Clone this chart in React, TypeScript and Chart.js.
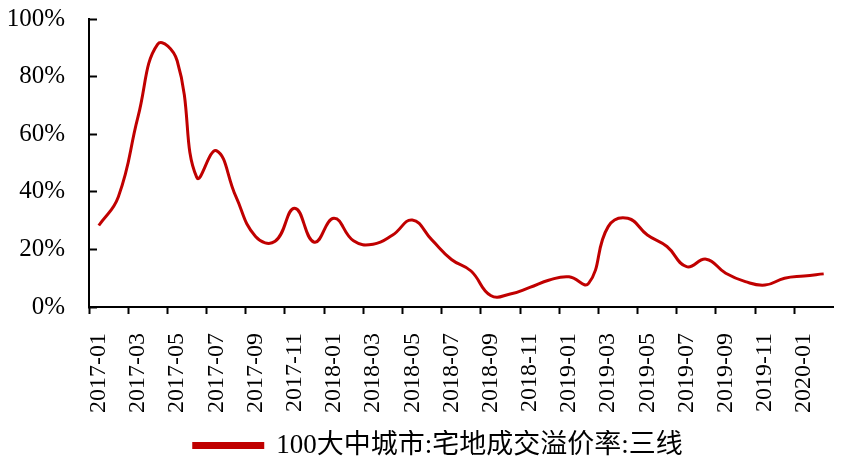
import React, { useEffect, useRef } from "react";
import { Chart, registerables } from "chart.js";

Chart.register(...registerables);

const months: string[] = [
  "2017-01","2017-02","2017-03","2017-04","2017-05","2017-06","2017-07","2017-08","2017-09","2017-10","2017-11","2017-12",
  "2018-01","2018-02","2018-03","2018-04","2018-05","2018-06","2018-07","2018-08","2018-09","2018-10","2018-11","2018-12",
  "2019-01","2019-02","2019-03","2019-04","2019-05","2019-06","2019-07","2019-08","2019-09","2019-10","2019-11","2019-12",
  "2020-01","2020-02",
];

const premiumRate: number[] = [
  28.3, 38.3, 66, 91.2, 85.5, 45, 54.3, 38.3, 24.5, 22.8, 34.3, 22.5,
  30.8, 23, 21.8, 25, 30.2, 23.3, 16.5, 12.5, 4.0, 4.5, 6.8, 9.4,
  10.5, 8.2, 27.9, 30.8, 25, 21, 14, 16.6, 11.7, 8.8, 7.6, 10,
  10.8, 11.5,
];

const seriesName = "100大中城市:宅地成交溢价率:三线";
const yTicks: number[] = [0, 20, 40, 60, 80, 100];

const legendShift = {
  id: "legendShift",
  afterLayout(chart: any) {
    if (chart.legend) {
      chart.legend.left += 43;
      chart.legend.top += 5;
      chart.legend.bottom += 5;
    }
  },
};

export default function App() {
  const ref = useRef<HTMLCanvasElement | null>(null);

  useEffect(() => {
    document.body.style.margin = "0";
    const canvas = ref.current;
    if (!canvas) return;
    const serif = "'Liberation Serif', 'Times New Roman', 'Noto Sans CJK SC', serif";
    const chart = new Chart(canvas, {
      type: "line",
      data: {
        labels: months,
        datasets: [
          {
            label: seriesName,
            data: premiumRate,
            borderColor: "#C00000",
            backgroundColor: "#C00000",
            borderWidth: 3,
            pointRadius: 0,
            tension: 0.45,
            fill: false,
          },
        ],
      },
      plugins: [legendShift],
      options: {
        animation: false,
        responsive: false,
        maintainAspectRatio: false,
        layout: { padding: { left: 0, right: 7.5, top: 19, bottom: 0 } },
        plugins: {
          tooltip: { enabled: false },
          legend: {
            position: "bottom",
            labels: {
              color: "#000",
              font: { family: serif, size: 27 },
              boxWidth: 69,
              boxHeight: 4,
              padding: 2,
            },
          },
        },
        scales: {
          x: {
            offset: true,
            grid: {
              offset: true,
              drawOnChartArea: false,
              drawTicks: true,
              tickLength: 7,
              tickWidth: 2,
              tickColor: (ctx: any) => (ctx.index % 2 === 0 ? "#000" : "rgba(0,0,0,0)"),
            },
            border: { color: "#000", width: 2 },
            ticks: {
              autoSkip: false,
              minRotation: 90,
              maxRotation: 90,
              padding: 19,
              color: "#000",
              font: { family: serif, size: 24 },
              callback: (_v: any, i: number) => (i % 2 === 0 ? months[i] : ""),
            },
            afterFit: (scale: any) => {
              scale.height = 118;
              scale.paddingLeft = 0;
              scale.paddingRight = 0;
              scale.paddingTop = 0;
              scale.paddingBottom = 0;
            },
          },
          y: {
            min: 0,
            max: 100,
            afterBuildTicks: (scale: any) => {
              scale.ticks = yTicks.map((v) => ({ value: v }));
            },
            grid: {
              drawOnChartArea: false,
              drawTicks: true,
              tickLength: -8,
              tickWidth: 2,
              tickColor: "#000",
            },
            border: { color: "#000", width: 2 },
            ticks: {
              padding: 32,
              color: "#000",
              font: { family: serif, size: 25 },
              callback: (v: any) => `${v}%`,
            },
            afterFit: (scale: any) => {
              scale.width = 89;
              scale.paddingLeft = 0;
              scale.paddingRight = 0;
              scale.paddingTop = 0;
              scale.paddingBottom = 0;
            },
          },
        },
      },
    });
    return () => chart.destroy();
  }, []);

  return (
    <div style={{ position: "fixed", left: 0, top: 0, width: 841, height: 464, background: "#fff" }}>
      <canvas ref={ref} width={841} height={464} style={{ width: 841, height: 464, display: "block" }} />
    </div>
  );
}
